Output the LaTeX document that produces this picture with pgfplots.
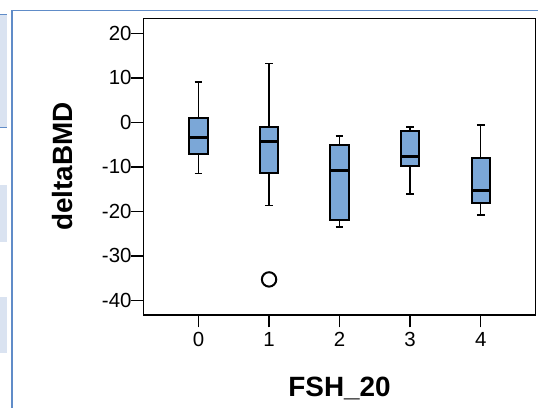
\documentclass[border=0pt]{standalone}
\usepackage{pgfplots}
\pgfplotsset{compat=1.18}
\usepgfplotslibrary{statistics}
\usepackage{fontspec}
\setmainfont{Liberation Sans}
\definecolor{boxfill}{RGB}{123,167,215}
\definecolor{framebl}{RGB}{96,140,200}
\definecolor{paneg}{RGB}{218,227,241}
\begin{document}
\begin{tikzpicture}
\useasboundingbox (0bp,0bp) rectangle (538bp,408bp);
% screenshot frame remnants
\fill[paneg] (0bp,281bp) rectangle (7bp,393bp);
\fill[paneg] (0bp,166.3bp) rectangle (7bp,223bp);
\fill[paneg] (0bp,55bp) rectangle (7bp,111.3bp);
\draw[framebl,line width=1.3bp] (0bp,393.5bp) -- (6.5bp,393.5bp);
\draw[framebl,line width=1.3bp] (0bp,280.5bp) -- (7bp,280.5bp);
\draw[framebl,line width=1.8bp] (12bp,0bp) -- (12bp,397.5bp) -- (538bp,397.5bp);
\begin{axis}[
  at={(143.5bp,93bp)}, anchor=south west,
  width=392.2bp, height=296.7bp, scale only axis,
  xmin=-0.78, xmax=4.78, ymin=-43.3, ymax=23.4,
  xtick={0,1,2,3,4}, ytick={-40,-30,-20,-10,0,10,20},
  tick align=outside, major tick length=12.5bp,
  xtick pos=bottom, ytick pos=left,
  axis line style={line width=1.4bp},
  every tick/.style={black,line width=1.4bp},
  ticklabel style={font=\fontsize{20.5}{22}\selectfont},
  /pgf/number format/assume math mode=true,
  xticklabel style={yshift=-1bp},
  yticklabel style={xshift=4bp},
  xlabel={\textbf{FSH\_20}}, ylabel={\textbf{deltaBMD}},
  label style={font=\fontsize{28}{30}\selectfont},
  xlabel style={at={(axis description cs:0.5,-0.246)},anchor=center},
  ylabel style={at={(axis description cs:-0.2064,0.5)},anchor=center},
  boxplot/draw direction=y,
  boxplot/box extend=0.26,
  boxplot/whisker extend=0.11,
  boxplot/every box/.style={draw=black,line width=2bp,fill=boxfill},
  boxplot/every whisker/.style={black,line width=1.4bp},
  boxplot/every median/.style={black,line width=3bp},
  cycle list={{black, mark=o}},
]
\addplot+[boxplot prepared={draw position=0, lower whisker=-11.5, lower quartile=-7.2,
  median=-3.3, upper quartile=1.0, upper whisker=9.1}] coordinates {};
\addplot+[mark=o, mark size=7.2bp, mark options={line width=2bp,black,solid},
  boxplot prepared={draw position=1, lower whisker=-18.7, lower quartile=-11.4,
  median=-4.4, upper quartile=-1.0, upper whisker=13.2}]
  table[row sep=\\, y index=0] {data\\ -35.3\\};
\addplot+[boxplot prepared={draw position=2, lower whisker=-23.5, lower quartile=-22.0,
  median=-10.9, upper quartile=-5.1, upper whisker=-3.1}] coordinates {};
\addplot+[boxplot prepared={draw position=3, lower whisker=-16.1, lower quartile=-9.7,
  median=-7.6, upper quartile=-2.0, upper whisker=-1.0}] coordinates {};
\addplot+[boxplot prepared={draw position=4, lower whisker=-20.8, lower quartile=-18.1,
  median=-15.4, upper quartile=-7.9, upper whisker=-0.6}] coordinates {};
\end{axis}
\end{tikzpicture}
\end{document}
